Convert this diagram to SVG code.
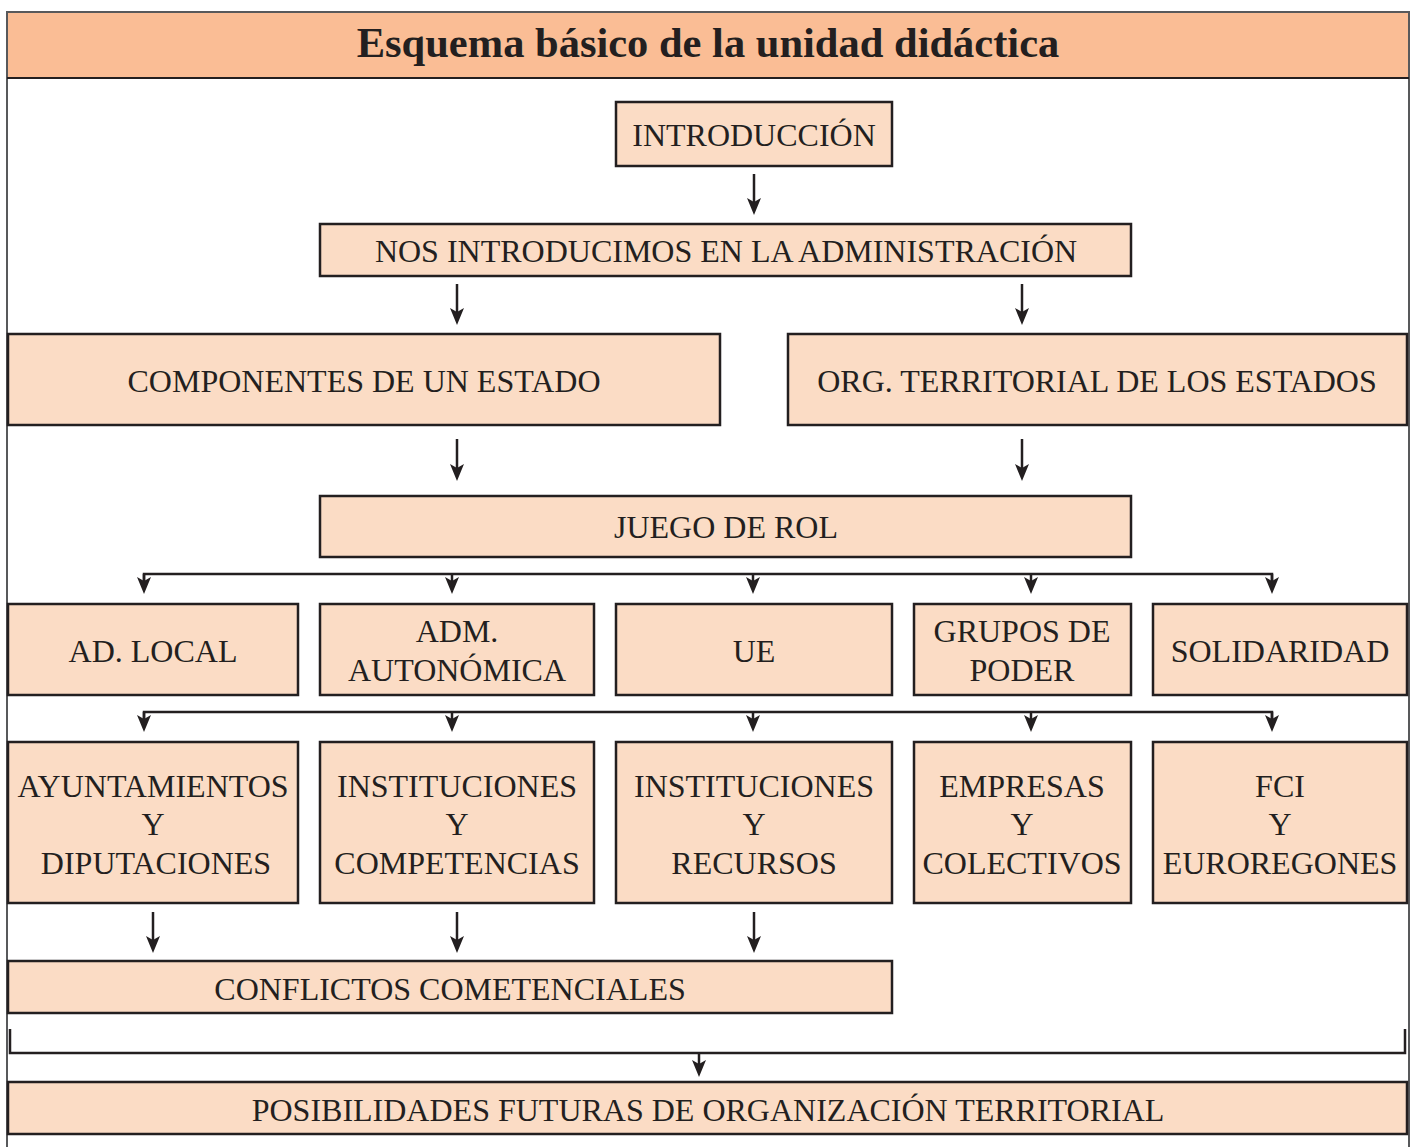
<svg xmlns="http://www.w3.org/2000/svg" width="1413" height="1147" viewBox="0 0 1413 1147">
<defs>
<style>
.box{fill:#FBDCC5;stroke:#231F20;stroke-width:2.5}
.t{font-family:"Liberation Serif","Times New Roman",serif;font-size:32px;fill:#231F20;text-anchor:middle}
.ln{fill:none;stroke:#231F20;stroke-width:2.5}
.ar{fill:none;stroke:#231F20;stroke-width:2.5;marker-end:url(#ah)}
</style>
<marker id="ah" markerUnits="userSpaceOnUse" viewBox="-10 -8 20 16" markerWidth="20" markerHeight="16" refX="0" refY="0" orient="auto" overflow="visible">
<path d="M9,0 L-8,-7 L-4,0 L-8,7 Z" fill="#231F20"/>
</marker>
</defs>
<rect width="1413" height="1147" fill="#ffffff"/>
<g id="frame">
<rect x="7" y="12" width="1402" height="66" fill="#FABD95"/>
<path d="M7,1147 V12 H1409 V1147" fill="none" stroke="#58595B" stroke-width="2"/>
<line x1="7" y1="78" x2="1409" y2="78" stroke="#231F20" stroke-width="2"/>
<text x="708" y="57" style="font-family:'Liberation Serif','Times New Roman',serif;font-size:42.5px;font-weight:bold;fill:#231F20;text-anchor:middle">Esquema básico de la unidad didáctica</text>
</g>
<g id="connectors">
<line class="ar" x1="754" y1="174" x2="754" y2="206"/>
<line class="ar" x1="457" y1="284" x2="457" y2="316"/>
<line class="ar" x1="1022" y1="284" x2="1022" y2="316"/>
<line class="ar" x1="457" y1="439" x2="457" y2="472"/>
<line class="ar" x1="1022" y1="439" x2="1022" y2="472"/>
<path class="ln" d="M144,585 V574 H1272 V585"/>
<line class="ar" x1="144" y1="574" x2="144" y2="585"/>
<line class="ar" x1="452" y1="574" x2="452" y2="585"/>
<line class="ar" x1="753" y1="574" x2="753" y2="585"/>
<line class="ar" x1="1031" y1="574" x2="1031" y2="585"/>
<line class="ar" x1="1272" y1="574" x2="1272" y2="585"/>
<path class="ln" d="M144,723 V712 H1272 V723"/>
<line class="ar" x1="144" y1="712" x2="144" y2="723"/>
<line class="ar" x1="452" y1="712" x2="452" y2="723"/>
<line class="ar" x1="753" y1="712" x2="753" y2="723"/>
<line class="ar" x1="1031" y1="712" x2="1031" y2="723"/>
<line class="ar" x1="1272" y1="712" x2="1272" y2="723"/>
<line class="ar" x1="153" y1="912" x2="153" y2="944"/>
<line class="ar" x1="457" y1="912" x2="457" y2="944"/>
<line class="ar" x1="754" y1="912" x2="754" y2="944"/>
<path class="ln" d="M10,1029 V1053 H1405 V1029"/>
<line class="ar" x1="699" y1="1053" x2="699" y2="1068"/>
</g>
<g id="n-intro"><rect class="box" x="616" y="102" width="276" height="64"/><text class="t" x="754" y="146">INTRODUCCIÓN</text></g>
<g id="n-nos"><rect class="box" x="320" y="224" width="811" height="52"/><text class="t" x="726" y="262">NOS INTRODUCIMOS EN LA ADMINISTRACIÓN</text></g>
<g id="n-comp"><rect class="box" x="8" y="334" width="712" height="91"/><text class="t" x="364" y="392">COMPONENTES DE UN ESTADO</text></g>
<g id="n-org"><rect class="box" x="788" y="334" width="619" height="91"/><text class="t" x="1097" y="392">ORG. TERRITORIAL DE LOS ESTADOS</text></g>
<g id="n-juego"><rect class="box" x="320" y="496" width="811" height="61"/><text class="t" x="726" y="538">JUEGO DE ROL</text></g>
<g id="n-adlocal"><rect class="box" x="8" y="604" width="290" height="91"/><text class="t" x="153" y="662">AD. LOCAL</text></g>
<g id="n-adm"><rect class="box" x="320" y="604" width="274" height="91"/><text class="t" x="457" y="642">ADM.</text><text class="t" x="457" y="681">AUTONÓMICA</text></g>
<g id="n-ue"><rect class="box" x="616" y="604" width="276" height="91"/><text class="t" x="754" y="662">UE</text></g>
<g id="n-grupos"><rect class="box" x="914" y="604" width="217" height="91"/><text class="t" x="1022" y="642">GRUPOS DE</text><text class="t" x="1022" y="681">PODER</text></g>
<g id="n-solid"><rect class="box" x="1153" y="604" width="254" height="91"/><text class="t" x="1280" y="662">SOLIDARIDAD</text></g>
<g id="n-ayunt"><rect class="box" x="8" y="742" width="290" height="161"/><text class="t" x="153" y="797">AYUNTAMIENTOS</text><text class="t" x="153" y="835">Y</text><text class="t" x="156" y="874">DIPUTACIONES</text></g>
<g id="n-instcomp"><rect class="box" x="320" y="742" width="274" height="161"/><text class="t" x="457" y="797">INSTITUCIONES</text><text class="t" x="457" y="835">Y</text><text class="t" x="457" y="874">COMPETENCIAS</text></g>
<g id="n-instrec"><rect class="box" x="616" y="742" width="276" height="161"/><text class="t" x="754" y="797">INSTITUCIONES</text><text class="t" x="754" y="835">Y</text><text class="t" x="754" y="874">RECURSOS</text></g>
<g id="n-empresas"><rect class="box" x="914" y="742" width="217" height="161"/><text class="t" x="1022" y="797">EMPRESAS</text><text class="t" x="1022" y="835">Y</text><text class="t" x="1022" y="874">COLECTIVOS</text></g>
<g id="n-fci"><rect class="box" x="1153" y="742" width="254" height="161"/><text class="t" x="1280" y="797">FCI</text><text class="t" x="1280" y="835">Y</text><text class="t" x="1280" y="874">EUROREGONES</text></g>
<g id="n-conflictos"><rect class="box" x="8" y="961" width="884" height="52"/><text class="t" x="450" y="1000">CONFLICTOS COMETENCIALES</text></g>
<g id="n-posib"><rect class="box" x="8" y="1082" width="1399" height="52"/><text class="t" x="708" y="1121">POSIBILIDADES FUTURAS DE ORGANIZACIÓN TERRITORIAL</text></g>
</svg>
